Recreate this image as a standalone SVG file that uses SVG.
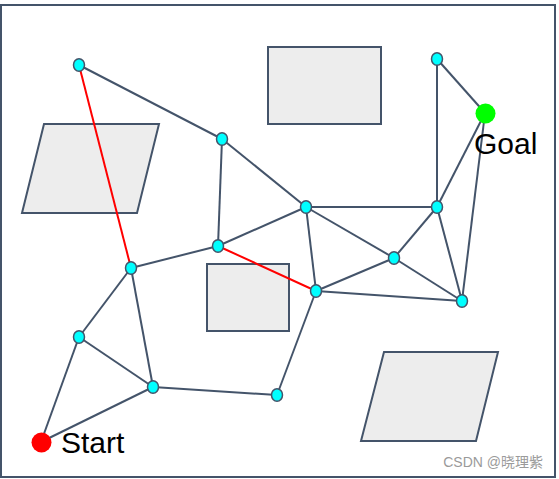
<svg xmlns="http://www.w3.org/2000/svg" width="559" height="479" viewBox="0 0 559 479">
<style>
.obs{fill:#EDEDED;stroke:#44546A;stroke-width:2}
.e{stroke:#44546A;stroke-width:2;fill:none}
.r{stroke:#FF0000;stroke-width:2;fill:none}
.n{fill:#00FFFF;stroke:#44546A;stroke-width:1.5}
.lbl{font-family:"Liberation Sans",Arial,sans-serif;font-size:30px;fill:#000}
.wm{font-family:"Liberation Sans",Arial,"Noto Sans CJK SC",sans-serif;font-size:14px;fill:#9a9a9a}
</style>
<rect x="0" y="0" width="559" height="479" fill="#fff"/>
<rect x="1" y="5" width="554" height="472" fill="#fff" stroke="#44546A" stroke-width="2"/>
<g id="obstacles">
<polygon class="obs" points="44,124 159,124 137,213 22,213"/>
<rect class="obs" x="268" y="47" width="113" height="77"/>
<rect class="obs" x="207" y="264" width="82" height="67"/>
<polygon class="obs" points="384,352 498,352 476,441 361,441"/>
</g>
<g id="connectors">
<line class="e" x1="79" y1="65" x2="222" y2="139"/>
<line class="e" x1="222" y1="139" x2="218" y2="246"/>
<line class="e" x1="222" y1="139" x2="306" y2="207"/>
<line class="e" x1="218" y1="246" x2="306" y2="207"/>
<line class="e" x1="218" y1="246" x2="131" y2="268"/>
<line class="e" x1="306" y1="207" x2="437" y2="207"/>
<line class="e" x1="306" y1="207" x2="316" y2="291"/>
<line class="e" x1="306" y1="207" x2="394" y2="258"/>
<line class="e" x1="437" y1="207" x2="437" y2="59"/>
<line class="e" x1="437" y1="59" x2="485" y2="113"/>
<line class="e" x1="437" y1="207" x2="485" y2="113"/>
<line class="e" x1="462" y1="301" x2="485" y2="113"/>
<line class="e" x1="437" y1="207" x2="394" y2="258"/>
<line class="e" x1="437" y1="207" x2="462" y2="301"/>
<line class="e" x1="394" y1="258" x2="316" y2="291"/>
<line class="e" x1="394" y1="258" x2="462" y2="301"/>
<line class="e" x1="316" y1="291" x2="462" y2="301"/>
<line class="e" x1="316" y1="291" x2="277" y2="395"/>
<line class="e" x1="277" y1="395" x2="153" y2="387"/>
<line class="e" x1="153" y1="387" x2="131" y2="268"/>
<line class="e" x1="153" y1="387" x2="79" y2="337"/>
<line class="e" x1="79" y1="337" x2="131" y2="268"/>
<line class="e" x1="79" y1="337" x2="41" y2="442"/>
<line class="e" x1="153" y1="387" x2="41" y2="442"/>
<line class="r" x1="79" y1="65" x2="131" y2="268"/>
<line class="r" x1="218" y1="246" x2="316" y2="291"/>
</g>
<g id="nA"><ellipse class="n" cx="79" cy="65" rx="5.5" ry="6.2"/></g>
<g id="nB"><ellipse class="n" cx="222" cy="139" rx="5.5" ry="6.2"/></g>
<g id="nC"><ellipse class="n" cx="306" cy="207" rx="5.5" ry="6.2"/></g>
<g id="nD"><ellipse class="n" cx="437" cy="59" rx="5.5" ry="6.2"/></g>
<g id="nE"><ellipse class="n" cx="437" cy="207" rx="5.5" ry="6.2"/></g>
<g id="nF"><ellipse class="n" cx="218" cy="246" rx="5.5" ry="6.2"/></g>
<g id="nG"><ellipse class="n" cx="131" cy="268" rx="5.5" ry="6.2"/></g>
<g id="nH"><ellipse class="n" cx="79" cy="337" rx="5.5" ry="6.2"/></g>
<g id="nI"><ellipse class="n" cx="153" cy="387" rx="5.5" ry="6.2"/></g>
<g id="nJ"><ellipse class="n" cx="277" cy="395" rx="5.5" ry="6.2"/></g>
<g id="nK"><ellipse class="n" cx="316" cy="291" rx="5.5" ry="6.2"/></g>
<g id="nL"><ellipse class="n" cx="394" cy="258" rx="5.5" ry="6.2"/></g>
<g id="nM"><ellipse class="n" cx="462" cy="301" rx="5.5" ry="6.2"/></g>
<g id="goal"><circle cx="485.5" cy="113.5" r="10" fill="#00FF00"/><text class="lbl" x="474" y="154">Goal</text></g>
<g id="start"><circle cx="41.5" cy="442.5" r="10" fill="#FF0000"/><text class="lbl" x="61" y="453">Start</text></g>
<text class="wm" x="543" y="467" text-anchor="end">CSDN @晓理紫</text>
</svg>
